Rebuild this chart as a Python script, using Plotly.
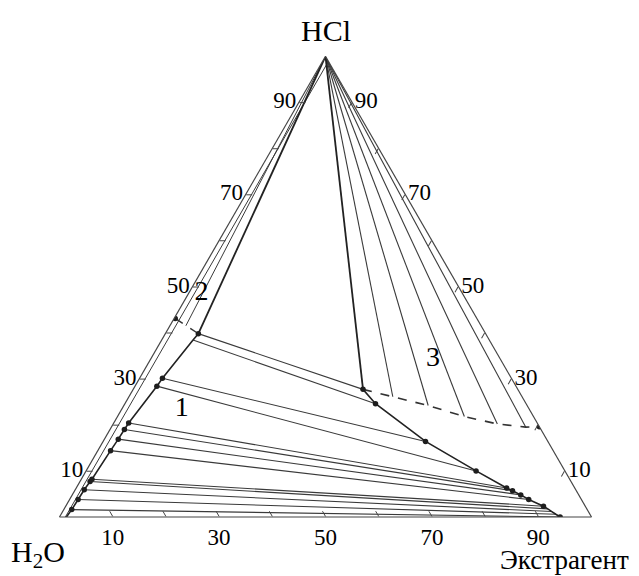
import plotly.graph_objects as go

# ---------------- data (mass %, H2O = 100 - HCl - Extractant) ----------------
# Region 1 binodal, water-rich branch (bottom -> three-phase vertex)
left_hcl = [0.0, 1.6, 3.8, 5.9, 7.7, 8.2, 14.4, 16.9, 19.0, 20.4, 28.4, 30.1, 38.4, 39.8]
left_ext = [1.3, 1.5, 1.6, 1.7, 1.9, 2.0, 2.4, 2.6, 2.7, 2.8, 4.1, 4.3, 5.9, 6.2]

# Region 1 binodal, extractant-rich branch (three-phase vertex -> base)
right_hcl = [27.7, 24.6, 16.4, 10.0, 6.3, 5.7, 4.8, 3.8, 2.35, 1.76, 1.18, 0.59, 0.0]
right_ext = [43.2, 47.1, 60.6, 73.3, 80.9, 82.3, 84.3, 86.3, 89.8, 90.9, 91.95, 93.0, 94.1]

# Tie lines of region 1 (indices into the branch lists)
tie_left_idx = [13, 12, 11, 10, 9, 8, 7, 6, 5, 4, 3, 2, 1]
tie_right_idx = [0, 1, 2, 3, 4, 5, 6, 7, 8, 9, 10, 11, 12]
left_dot_idx = [1, 2, 3, 4, 5, 6, 7, 8, 9, 10, 11, 13]
right_dot_idx = [0, 1, 2, 3, 4, 5, 6, 7, 8, 12]

# Apex (pure HCl)
apex_hcl = 100.0
apex_ext = 0.0

# Region 3 dashed boundary (three-phase vertex -> right side)
r3_hcl = [27.7, 26.1, 24.2, 21.8, 20.2, 19.5, 19.6]
r3_ext = [43.2, 49.6, 57.2, 65.2, 72.2, 77.9, 80.4]
r3_tie_idx = [1, 2, 3, 4, 5]

# Region 2 dashed boundary and tie line
r2_hcl = [43.1, 39.8]
r2_ext = [0.2, 6.2]
r2_tie_hcl = [41.5]
r2_tie_ext = [3.0]

# Inner line along the H2O-HCl side
inner_hcl = [0.0, 98.8]
inner_ext = [1.1, 1.1]

# Region labels
region_text = ["1", "2", "3"]
region_hcl = [23.4, 48.6, 34.4]
region_ext = [11.3, 2.4, 53.0]

# Axis tick values (every 10 %, labels on odd tens)
tick_steps = [10, 20, 30, 40, 50, 60, 70, 80, 90]
labelled = [10, 30, 50, 70, 90]

# ---------------- helpers ----------------
def water(h, e):
    return [None if (x is None) else 100 - x - y for x, y in zip(h, e)]

LINE = "#3a3a3a"
SERIF = "Liberation Serif"

fig = go.Figure()

def add_line(h, e, width=1.1, color=LINE, dash="solid", mode="lines", msize=5):
    fig.add_trace(go.Scatterternary(
        a=h, b=water(h, e), c=e, mode=mode, connectgaps=False,
        line=dict(color=color, width=width, dash=dash),
        marker=dict(size=msize, color="#1e1e1e"),
        hoverinfo="skip", showlegend=False))

# inner line
add_line(inner_hcl, inner_ext, width=1.0)

# region 1 tie lines
th, te = [], []
for li, ri in zip(tie_left_idx, tie_right_idx):
    th += [left_hcl[li], right_hcl[ri], None]
    te += [left_ext[li], right_ext[ri], None]
add_line(th, te, width=1.1)

# region 3 tie lines from apex
th, te = [], []
for i in r3_tie_idx:
    th += [apex_hcl, r3_hcl[i], None]
    te += [apex_ext, r3_ext[i], None]
add_line(th, te, width=1.1)

# region 2 tie line from apex
th, te = [], []
for h, e in zip(r2_tie_hcl, r2_tie_ext):
    th += [apex_hcl, h, None]
    te += [apex_ext, e, None]
add_line(th, te, width=1.0)

# binodal branches
add_line(left_hcl, left_ext, width=1.6, color="#222")
add_line(right_hcl, right_ext, width=1.6, color="#222")

# heavy boundaries from apex
add_line([apex_hcl, right_hcl[0]], [apex_ext, right_ext[0]], width=1.8, color="#222")
add_line([apex_hcl, left_hcl[-1]], [apex_ext, left_ext[-1]], width=1.8, color="#222")

# dashed boundaries
add_line(r3_hcl, r3_ext, width=1.6, color="#333", dash="dash")
add_line(r2_hcl, r2_ext, width=1.4, color="#333", dash="dash")

# dots
dot_h = [left_hcl[i] for i in left_dot_idx] + [right_hcl[i] for i in right_dot_idx] \
    + [r2_hcl[0], r3_hcl[-1]]
dot_e = [left_ext[i] for i in left_dot_idx] + [right_ext[i] for i in right_dot_idx] \
    + [r2_ext[0], r3_ext[-1]]
add_line(dot_h, dot_e, mode="markers", msize=5.5)

# region labels
fig.add_trace(go.Scatterternary(
    a=region_hcl, b=water(region_hcl, region_ext), c=region_ext,
    mode="text", text=region_text,
    textfont=dict(family=SERIF, size=28, color="black"),
    hoverinfo="skip", showlegend=False))

def axis(vals, texts):
    return dict(
        title=dict(text=""), min=0,
        tickmode="array", tickvals=vals, ticktext=texts,
        ticks="inside", ticklen=6, tickwidth=1, tickcolor="#444",
        linecolor="#444", linewidth=1.2, showgrid=False,
        tickfont=dict(family=SERIF, size=23, color="black"),
    )

a_vals = tick_steps
a_text = [str(v) if v in labelled else "" for v in a_vals]
bc_vals = [100 - v for v in tick_steps]
bc_text = [str(100 - v) if (100 - v) in labelled else "" for v in bc_vals]

W, H = 639, 576
tri_w = 532.0
cx, base_y = 325.5, 517.0
tri_h = tri_w * 3 ** 0.5 / 2
cy = base_y - tri_h / 2
dom_h = tri_h + 12

def label(text, px, py, size=30):
    return dict(text=text, x=px / W, y=1 - py / H, xref="paper", yref="paper",
                xanchor="center", yanchor="middle", showarrow=False,
                font=dict(family=SERIF, size=size, color="black"))

fig.update_layout(
    width=W, height=H,
    margin=dict(l=0, r=0, t=0, b=0),
    paper_bgcolor="white", plot_bgcolor="white",
    showlegend=False,
    ternary=dict(
        sum=100,
        bgcolor="white",
        domain=dict(x=[(cx - tri_w / 2) / W, (cx + tri_w / 2) / W],
                    y=[1 - (cy + dom_h / 2) / H, 1 - (cy - dom_h / 2) / H]),
        aaxis=axis(a_vals, a_text),
        baxis=axis(bc_vals, bc_text),
        caxis=axis(bc_vals, bc_text),
    ),
    annotations=[
        label("HCl", 326, 31),
        label("H<sub>2</sub>O", 38, 554),
        label("Экстрагент", 564, 560, size=27),
    ],
)

fig.write_html("out.html")
